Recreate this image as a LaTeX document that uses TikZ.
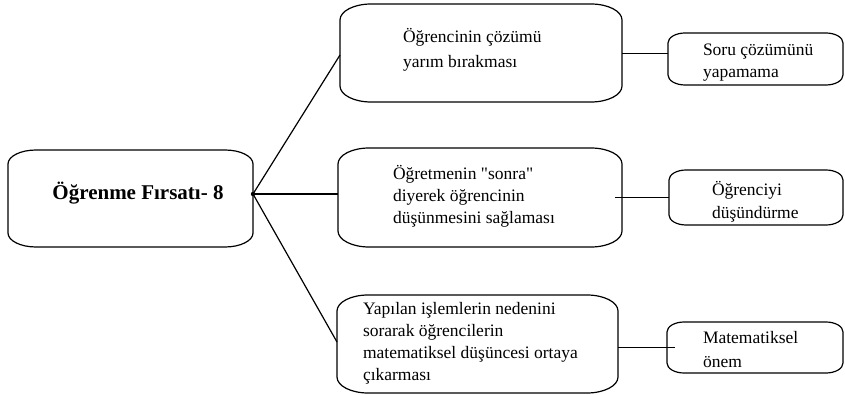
\documentclass[tikz,border=0pt]{standalone}
\usepackage{fontspec}
\setmainfont{Liberation Serif}[Ligatures=TeXOff]
\usetikzlibrary{calc}

% frame with elliptical corners around a named (invisible) node
\newcommand\ovalframe[3]{%
  \draw[frame] ($(#1.north east)+(-#2,0)$)
      arc[start angle=90,end angle=0,x radius=#2,y radius=#3]
    -- ($(#1.south east)+(0,#3)$)
      arc[start angle=0,end angle=-90,x radius=#2,y radius=#3]
    -- ($(#1.south west)+(#2,0)$)
      arc[start angle=-90,end angle=-180,x radius=#2,y radius=#3]
    -- ($(#1.north west)+(0,-#3)$)
      arc[start angle=180,end angle=90,x radius=#2,y radius=#3]
    -- cycle;}

\tikzset{
  area/.style={rectangle, draw=none, inner sep=0pt, outer sep=0pt},
  frame/.style={line width=1.2pt, black},
  link/.style={line width=1.2pt, black},
  label/.style={inner sep=0pt, outer sep=0pt, anchor=west, align=left,
                font=\fontsize{17.5}{22}\selectfont},
  title/.style={inner sep=0pt, font=\fontsize{21}{25}\selectfont\bfseries},
}

\begin{document}
\begin{tikzpicture}[x=1pt,y=1pt]
\useasboundingbox (0,0) rectangle (845,-395);

% box areas
\node[area, minimum width=245pt, minimum height=97pt] (main) at (130.5,-198.5) {};
\node[area, minimum width=282pt, minimum height=98pt] (b1) at (481,-53) {};
\node[area, minimum width=284pt, minimum height=99pt] (b2) at (480,-197.5) {};
\node[area, minimum width=281pt, minimum height=98pt] (b3) at (477.5,-344) {};
\node[area, minimum width=175pt, minimum height=52pt] (r1) at (755.5,-59) {};
\node[area, minimum width=174pt, minimum height=55pt] (r2) at (756,-197.5) {};
\node[area, minimum width=176pt, minimum height=51pt] (r3) at (755,-347.5) {};

% frames
\ovalframe{main}{28pt}{14pt}
\ovalframe{b1}{31pt}{16pt}
\ovalframe{b2}{31pt}{16pt}
\ovalframe{b3}{31pt}{16pt}
\ovalframe{r1}{17pt}{10pt}
\ovalframe{r2}{17pt}{10pt}
\ovalframe{r3}{17pt}{10pt}

% texts
\node[title] (t0) at (138,-193) {Öğrenme Fırsatı- 8};
\node[label, font=\fontsize{17.5}{25}\selectfont] (t1) at (403,-49.5)
  {Öğrencinin çözümü\\yarım bırakması};
\node[label] (t2) at (393,-196.5)
  {Öğretmenin "sonra"\\diyerek öğrencinin\\düşünmesini sağlaması};
\node[label] (t3) at (363,-343.5)
  {Yapılan işlemlerin nedenini\\sorarak öğrencilerin\\matematiksel düşüncesi ortaya\\çıkarması};
\node[label] (tr1) at (703,-62.5) {Soru çözümünü\\yapamama};
\node[label, font=\fontsize{17.5}{23}\selectfont] (tr2) at (712,-201.5) {Öğrenciyi\\düşündürme};
\node[label, font=\fontsize{17.5}{24}\selectfont] (tr3) at (703,-350) {Matematiksel\\önem};

% connectors
\coordinate (hub) at (253,-194);
\draw[link] (hub) -- ([yshift=-2pt]b1.west);
\draw[link] (hub) -- (b2.west |- hub);
\draw[link] (hub) -- ([yshift=2pt]b3.west);
\fill (hub) circle (2.2pt);

\draw[link] ([yshift=-0.5pt]b1.east) -- ([yshift=-0.5pt]b1.east -| r1.west);
\draw[link] ([xshift=-7pt]b2.east) -- (b2.east -| r2.west);
\draw[link] (b3.east |- r3.west) -- ([xshift=8pt]r3.west);
\end{tikzpicture}
\end{document}
